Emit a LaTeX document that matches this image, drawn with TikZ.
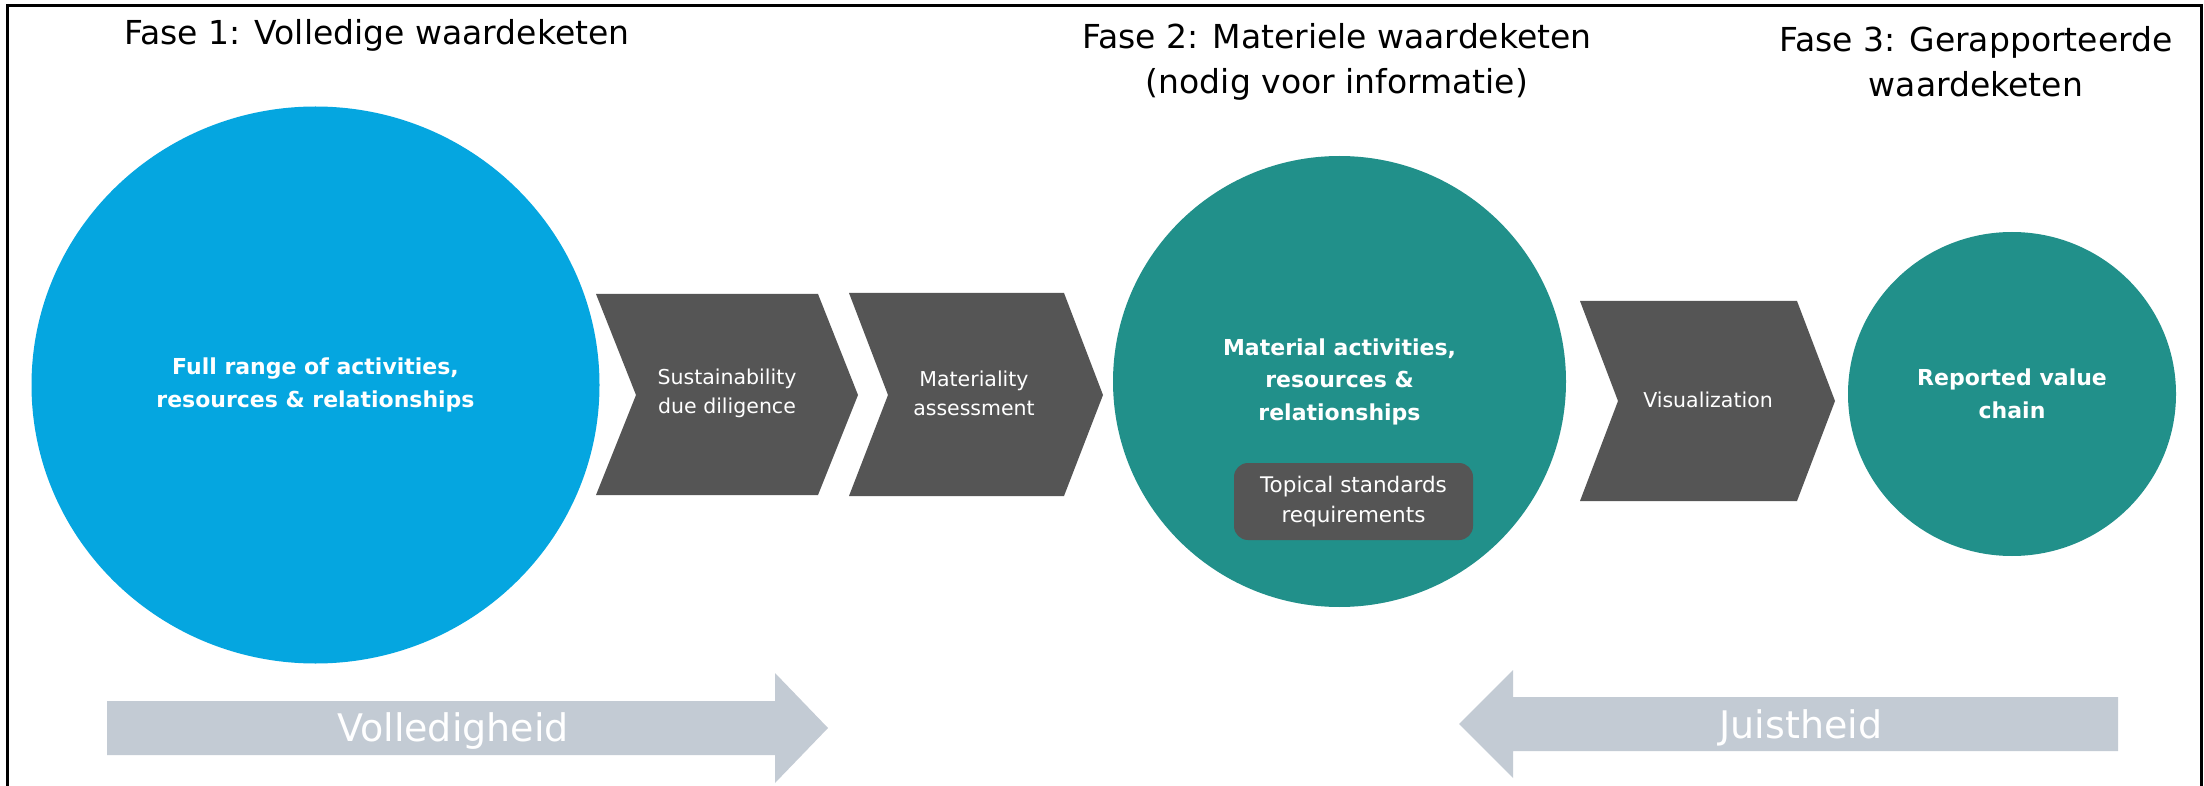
\documentclass[tikz,border=0pt]{standalone}
\usepackage{fontspec}
\setmainfont{DejaVu Sans}
\usetikzlibrary{shapes.geometric}
\definecolor{cblue}{HTML}{05A6E0}
\definecolor{cteal}{HTML}{21908A}
\definecolor{cdark}{HTML}{555555}
\definecolor{carrow}{HTML}{C3CBD4}
\begin{document}
\begin{tikzpicture}[x=1pt,y=-1pt,
  titletext/.style={font=\fontsize{33}{45}\selectfont, align=center, text=black, inner sep=0pt},
  circtext/.style={font=\bfseries\fontsize{22}{32.5}\selectfont, text=white, align=center, inner sep=0pt},
  chevtext/.style={font=\fontsize{20.5}{29}\selectfont, text=white, align=center, inner sep=0pt},
  boxtext/.style={font=\fontsize{21.5}{29.5}\selectfont, text=white, align=center, inner sep=0pt},
  bigtext/.style={font=\fontsize{38}{40}\selectfont, text=white, inner sep=0pt},
  chevshape/.style={fill=cdark},
  barshape/.style={fill=carrow}
]
\useasboundingbox (0,0) rectangle (2204,786);
\fill[white] (0,0) rectangle (2204,786);
\draw[line width=3pt] (7,792) -- (7,6) -- (2201,6) -- (2201,792);

% titles
\node[titletext, anchor=base] (t1) at (377,45) {Fase 1: Volledige waardeketen};
\node[titletext] (t2) at (1337,62) {Fase 2: Materiele waardeketen\\(nodig voor informatie)};
\node[titletext] (t3) at (1976,62) {Fase 3: Gerapporteerde\\waardeketen};

% circles
\node[ellipse, fill=cblue, minimum width=568pt, minimum height=557pt, circtext] (full) at (315.5,385)
  {Full range of activities,\\resources \& relationships};
\node[ellipse, fill=cteal, minimum width=453pt, minimum height=451pt, circtext] (mat) at (1339.5,381.5)
  {Material activities,\\resources \&\\relationships};
\node[rectangle, rounded corners=14pt, fill=cdark, minimum width=239pt, minimum height=77pt, boxtext] (topical) at (1353.5,501.5)
  {Topical standards\\requirements};
\node[ellipse, fill=cteal, minimum width=328pt, minimum height=324pt, circtext] (rep) at (2012,394)
  {Reported value\\chain};

% chevrons
\path[chevshape] (596,294) -- (818,294) -- (858,395) -- (818,495) -- (596,495) -- (636,395) -- cycle;
\node[chevtext] (sdd) at (727,393.5) {Sustainability\\due diligence};
\path[chevshape] (849,293) -- (1064,293) -- (1103,395) -- (1064,496) -- (849,496) -- (888,395) -- cycle;
\node[chevtext] (ma) at (974,393.5) {Materiality\\assessment};
\path[chevshape] (1580,301) -- (1797,301) -- (1835,401) -- (1797,501) -- (1580,501) -- (1618,401) -- cycle;
\node[chevtext] (vis) at (1708,400) {Visualization};

% block arrows
\path[barshape] (107,701) -- (775,701) -- (775,673) -- (828,728) -- (775,783) -- (775,755) -- (107,755) -- cycle;
\node[bigtext, anchor=base] (vol) at (453,741) {Volledigheid};
\path[barshape] (2118,697) -- (1513,697) -- (1513,670) -- (1459,724) -- (1513,778) -- (1513,751) -- (2118,751) -- cycle;
\node[bigtext, anchor=base] (jui) at (1801,738) {Juistheid};
\end{tikzpicture}
\end{document}
